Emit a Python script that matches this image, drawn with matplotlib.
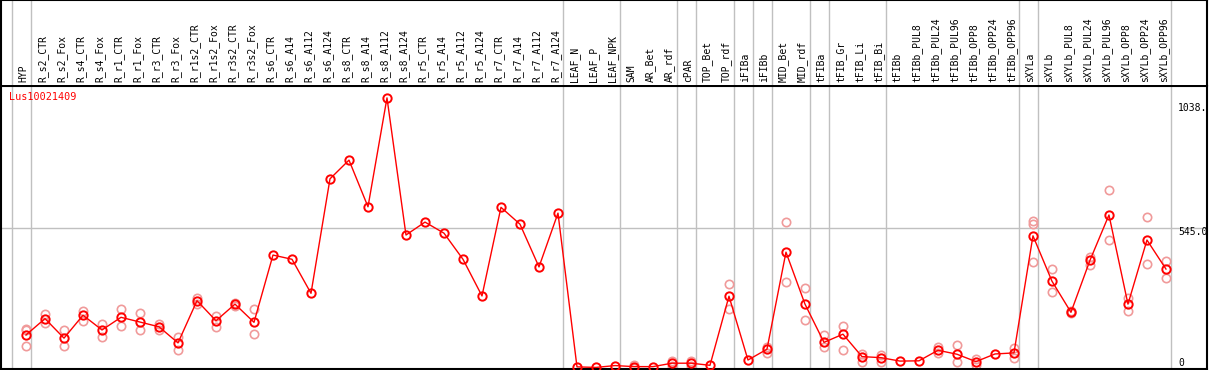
import matplotlib.pyplot as plt

# Sample names, mean expression and replicate values
samples = [
    "HYP", "R_s2_CTR", "R_s2_Fox", "R_s4_CTR", "R_s4_Fox", "R_r1_CTR", "R_r1_Fox",
    "R_r3_CTR", "R_r3_Fox", "R_r1s2_CTR", "R_r1s2_Fox", "R_r3s2_CTR", "R_r3s2_Fox",
    "R_s6_CTR", "R_s6_A14", "R_s6_A112", "R_s6_A124", "R_s8_CTR", "R_s8_A14",
    "R_s8_A112", "R_s8_A124", "R_r5_CTR", "R_r5_A14", "R_r5_A112", "R_r5_A124",
    "R_r7_CTR", "R_r7_A14", "R_r7_A112", "R_r7_A124", "LEAF_N", "LEAF_P",
    "LEAF_NPK", "SAM", "AR_Bet", "AR_rdf", "cPAR", "TOP_Bet", "TOP_rdf", "iFIBa",
    "iFIBb", "MID_Bet", "MID_rdf", "tFIBa", "tFIB_Gr", "tFIB_Li", "tFIB_Bi",
    "tFIBb", "tFIBb_PUL8", "tFIBb_PUL24", "tFIBb_PUL96", "tFIBb_OPP8",
    "tFIBb_OPP24", "tFIBb_OPP96", "sXYLa", "sXYLb", "sXYLb_PUL8", "sXYLb_PUL24",
    "sXYLb_PUL96", "sXYLb_OPP8", "sXYLb_OPP24", "sXYLb_OPP96",
]

means = [
    139, 201, 127, 214, 158, 206, 188, 170, 109, 269, 193, 256, 187,
    442, 426, 297, 731, 802, 625, 1038, 518, 567, 525, 426, 287,
    623, 559, 397, 601, 18, 16, 23, 19, 19, 32, 32, 24, 286, 44,
    85, 453, 256, 111, 142, 57, 53, 40, 41, 81, 66, 38, 67, 71,
    515, 343, 225, 422, 594, 256, 499, 389,
]

replicates = [
    [163, 157, 97], [219, 186], [156, 99], [231, 193], [180, 133], [238, 172],
    [221, 158], [180, 158], [133, 81], [278, 256], [211, 170], [262, 250],
    [238, 142],
    [], [], [], [], [], [], [], [], [], [], [], [], [], [], [], [],
    [], [], [], [24, 15], [], [41, 23], [41, 23], [], [333, 237], [],
    [95, 72], [567, 340], [316, 195], [139, 95], [172, 81], [67, 38], [63, 36],
    [], [], [95, 72], [101, 36], [47, 25], [], [89, 53],
    [573, 559, 417], [388, 301], [230, 221], [436, 406], [688, 498],
    [278, 229], [585, 407], [420, 354],
]

# Gray separators are drawn to the right of these samples (None = before the first)
group_ends = [None, "HYP", "R_r7_A124", "LEAF_NPK", "AR_rdf", "cPAR", "TOP_rdf",
              "iFIBa", "iFIBb", "MID_rdf", "tFIBa", "tFIB_Bi", "tFIBb_OPP96",
              "sXYLa", "sXYLb_OPP96"]

gene = "Lus10021409"
ytick_values = [1038, 545, 0]
ytick_labels = ["1038.", "545.0", "0"]

mono = "DejaVu Sans Mono"
W, H = 1209, 370
fig = plt.figure(figsize=(W / 100, H / 100), dpi=100)

# Plot area and label header, sharing the x scale
ax = fig.add_axes([1 / W, 1 / H, 1206 / W, 283 / H])
head = fig.add_axes([1 / W, 285 / H, 1206 / W, 85 / H], sharex=ax)

x = list(range(len(samples)))
ax.set_xlim(-1.316, 62.16)
ax.set_ylim(10, 1083)
head.set_ylim(0, 1)

for a in (ax, head):
    a.set_xticks([])
    a.set_yticks([])
    for s in a.spines.values():
        s.set_color("black")
        s.set_linewidth(1.5)
    for name in group_ends:
        pos = -1 if name is None else samples.index(name)
        a.axvline(pos + 0.24, color="#c0c0c0", linewidth=1, zorder=0)
head.spines["bottom"].set_visible(False)

ax.axhline(545, color="#c0c0c0", linewidth=1, zorder=0)

# Replicate circles
for xi, reps in zip(x, replicates):
    for r in reps:
        ax.plot(xi, r, "o", markersize=6, markerfacecolor="none",
                markeredgecolor="#f09a9a", markeredgewidth=1.2, zorder=2)

# Mean line
ax.plot(x, means, color="red", linewidth=1, marker="o", markersize=6,
        markerfacecolor="none", markeredgecolor="red", markeredgewidth=1.4,
        zorder=3, clip_on=False)

# Sample labels in the header
for xi, name in zip(x, samples):
    head.text(xi - 0.13, 0.035, name, rotation=90, ha="center", va="bottom",
              fontsize=7, family=mono, color="black")

ax.text(0.007, 0.96, gene, transform=ax.transAxes, color="red", fontsize=7.3,
        family=mono, ha="left", va="center")

# Value labels on the right
offsets = [-10, -4, 9]
for v, lab, off in zip(ytick_values, ytick_labels, offsets):
    ax.annotate(lab, xy=(0.976, v), xycoords=("axes fraction", "data"),
                xytext=(0, off * 0.72), textcoords="offset points",
                fontsize=7, family=mono, ha="left", va="center",
                annotation_clip=False)

plt.savefig("out.png", dpi=100)
plt.close()
